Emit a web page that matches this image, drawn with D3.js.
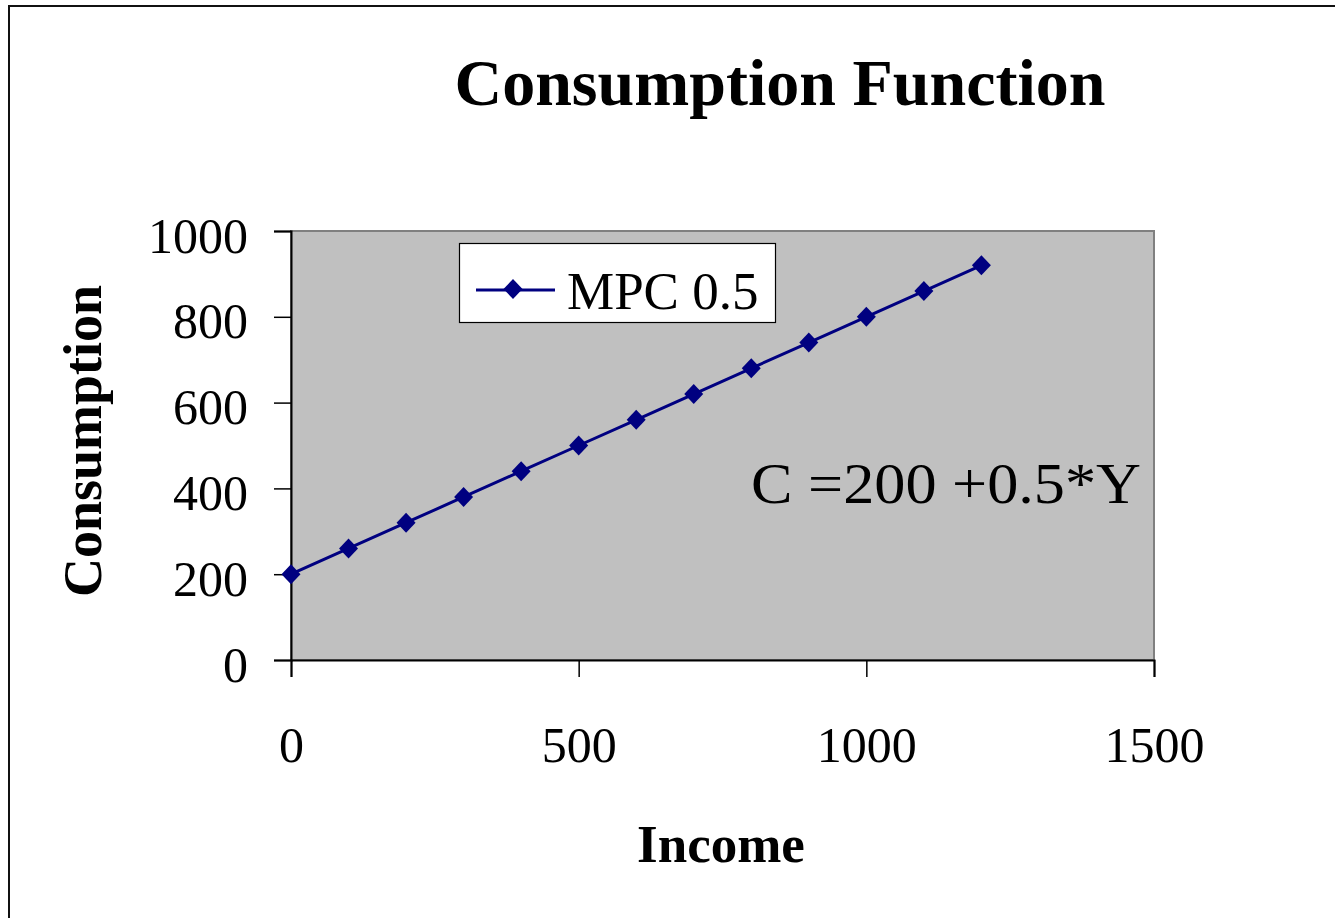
<!DOCTYPE html>
<html>
<head>
<meta charset="utf-8">
<script src="https://cdn.jsdelivr.net/npm/d3@7"></script>
<style>
  html, body { margin: 0; padding: 0; background: #fff; }
  svg { display: block; }
  text { font-family: "Liberation Serif", "Times New Roman", serif; fill: #000; }
</style>
</head>
<body>
<svg id="chart" width="1335" height="918"></svg>
<script>
// Income levels (Y) and consumption values plotted
const income = [0, 100, 200, 300, 400, 500, 600, 700, 800, 900, 1000, 1100, 1200];
const consumption = [200, 260, 320, 380, 440, 500, 560, 620, 680, 740, 800, 860, 920];
const xTicks = [0, 500, 1000, 1500];
const yTicks = [0, 200, 400, 600, 800, 1000];
const seriesName = "MPC 0.5";
const equationText = "C =200 +0.5*Y";

const svg = d3.select("#chart");
const plot = { left: 291, right: 1154, top: 231, bottom: 660 };

const x = d3.scaleLinear().domain([0, 1500]).range([plot.left, plot.right]);
const y = d3.scaleLinear().domain([0, 1000]).range([plot.bottom, plot.top]);

// outer chart frame
svg.append("rect")
  .attr("x", 9).attr("y", 6)
  .attr("width", 1400).attr("height", 1000)
  .attr("fill", "#fff").attr("stroke", "#111").attr("stroke-width", 2);

// title
svg.append("text")
  .attr("x", 780).attr("y", 105)
  .attr("text-anchor", "middle")
  .attr("font-size", 66).attr("font-weight", "bold")
  .text("Consumption Function");

// plot area
svg.append("rect")
  .attr("x", plot.left).attr("y", plot.top)
  .attr("width", plot.right - plot.left).attr("height", plot.bottom - plot.top)
  .attr("fill", "#c0c0c0").attr("stroke", "#808080").attr("stroke-width", 2);

// y axis
const yAxis = svg.append("g")
  .attr("transform", `translate(${plot.left},0)`)
  .call(d3.axisLeft(y).tickValues(yTicks).tickSize(17).tickPadding(26).tickFormat(d3.format("d")));
yAxis.select(".domain").attr("stroke", "#000").attr("stroke-width", 2);
yAxis.selectAll(".tick line").attr("stroke", "#000").attr("stroke-width", 1.5);
yAxis.selectAll(".tick text")
  .attr("font-family", "Liberation Serif, Times New Roman, serif")
  .attr("font-size", 50).attr("fill", "#000").attr("dy", "0.42em");

// x axis
const xAxis = svg.append("g")
  .attr("transform", `translate(0,${plot.bottom})`)
  .call(d3.axisBottom(x).tickValues(xTicks).tickSize(17).tickPadding(80).tickFormat(d3.format("d")));
xAxis.select(".domain").attr("stroke", "#000").attr("stroke-width", 2);
xAxis.selectAll(".tick line").attr("stroke", "#000").attr("stroke-width", 1.5);
xAxis.selectAll(".tick text")
  .attr("font-family", "Liberation Serif, Times New Roman, serif")
  .attr("font-size", 50).attr("fill", "#000").attr("dy", "0.1em");

// axis titles
svg.append("text")
  .attr("x", 721).attr("y", 862)
  .attr("text-anchor", "middle")
  .attr("font-size", 53).attr("font-weight", "bold")
  .text("Income");

svg.append("text")
  .attr("transform", "translate(101,441) rotate(-90)")
  .attr("text-anchor", "middle")
  .attr("font-size", 54).attr("font-weight", "bold")
  .text("Consumption");

// series line and markers
const data = income.map((v, i) => ({ x: v, y: consumption[i] }));
const navy = "#000080";

svg.append("path")
  .datum(data)
  .attr("fill", "none").attr("stroke", navy).attr("stroke-width", 3)
  .attr("d", d3.line().x(d => x(d.x)).y(d => y(d.y)));

const marker = (sel) => sel
  .attr("d", "M0,-10L9.5,0L0,10L-9.5,0Z")
  .attr("fill", navy);

svg.append("g").selectAll("path")
  .data(data).join("path")
  .attr("transform", d => `translate(${x(d.x)},${y(d.y)})`)
  .call(marker);

// legend
const legend = svg.append("g");
legend.append("rect")
  .attr("x", 459.5).attr("y", 243.5).attr("width", 316).attr("height", 79)
  .attr("fill", "#fff").attr("stroke", "#000").attr("stroke-width", 1.2);
legend.append("line")
  .attr("x1", 476).attr("x2", 555).attr("y1", 290).attr("y2", 290)
  .attr("stroke", navy).attr("stroke-width", 3);
legend.append("path")
  .attr("transform", "translate(513,289)")
  .call(marker);
legend.append("text")
  .attr("x", 567).attr("y", 309)
  .attr("font-size", 53)
  .text(seriesName);

// equation annotation
svg.append("text")
  .attr("x", 751).attr("y", 503)
  .attr("font-size", 56)
  .attr("textLength", 390).attr("lengthAdjust", "spacingAndGlyphs")
  .text(equationText);
</script>
</body>
</html>
